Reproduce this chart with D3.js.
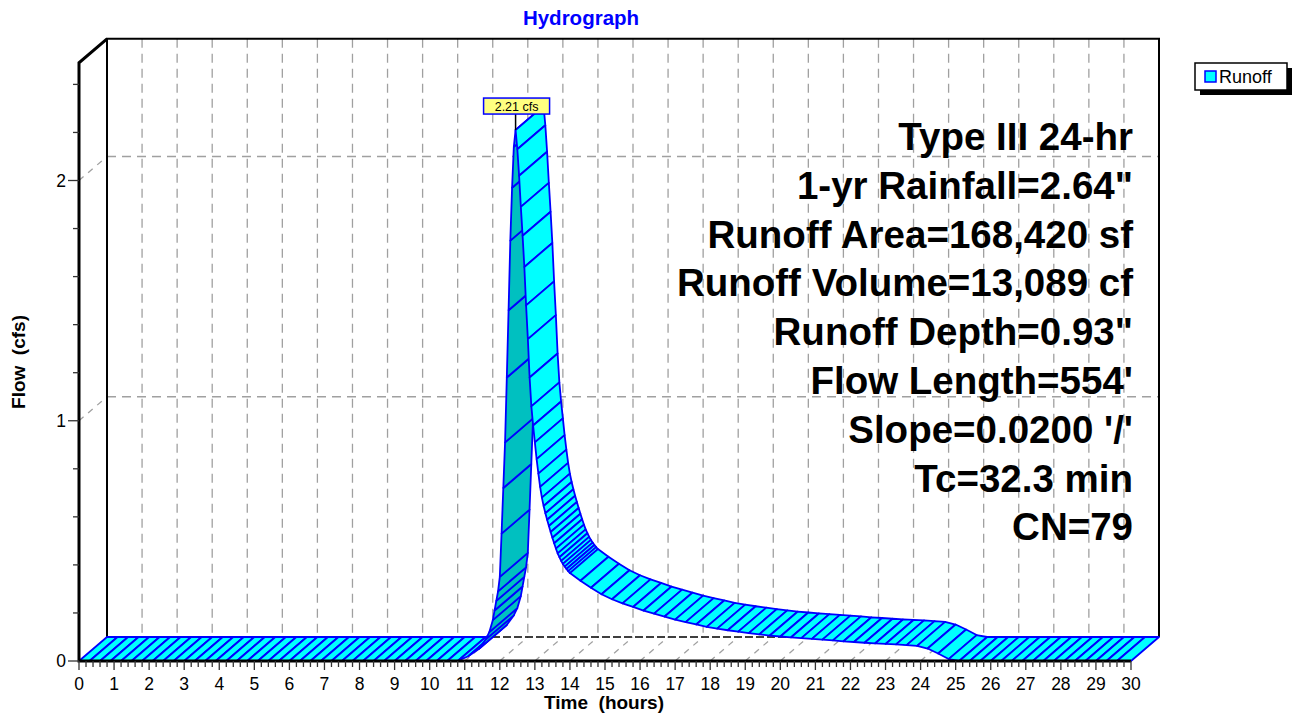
<!DOCTYPE html>
<html>
<head>
<meta charset="utf-8">
<script src="https://cdn.jsdelivr.net/npm/d3@7"></script>
<style>
  body { margin: 0; background: #fff; }
  text { font-family: "Liberation Sans", Arial, sans-serif; }
</style>
</head>
<body>
<div id="chart"></div>
<script>
// hydrograph data (hours, cfs)
var timeHrs = [0,0.3,0.6,0.9,1.2,1.5,1.8,2.1,2.4,2.7,3.0,3.3,3.6,3.9,4.2,4.5,4.8,5.1,5.4,5.7,6.0,6.3,6.6,6.9,7.2,7.5,7.8,8.1,8.4,8.7,9.0,9.3,9.6,9.9,10.2,10.5,10.8,
  11.1,11.4,11.6,11.7,11.8,11.85,11.9,11.95,12.0,12.05,12.1,12.15,12.2,12.25,12.3,12.35,12.4,12.45,
  12.5,12.55,12.6,12.65,12.7,12.75,12.8,12.85,12.9,12.95,13.0,13.05,13.1,13.15,13.2,13.25,13.3,13.35,13.4,13.45,13.5,13.55,13.6,13.65,13.7,13.75,13.8,13.85,13.9,13.95,14.0,
  14.3,14.6,14.9,15.2,15.5,15.8,16.1,16.4,16.7,17.0,17.3,17.6,17.9,18.2,18.5,18.8,19.1,19.4,19.7,20.0,20.3,20.6,20.9,21.2,21.5,21.8,22.1,22.4,22.7,23.0,23.3,23.6,23.9,24.2,24.5,24.8,25.1,
  25.4,25.7,26.0,26.3,26.6,26.9,27.2,27.5,27.8,28.1,28.4,28.7,29.0,29.3,29.6,30.0];
var flowCfs = [0,0,0,0,0,0,0,0,0,0,0,0,0,0,0,0,0,0,0,0,0,0,0,0,0,0,0,0,0,0,0,0,0,0,0,0,0,
  0.02,0.05,0.09,0.12,0.17,0.21,0.25,0.29,0.35,0.53,0.72,0.91,1.18,1.46,1.75,1.97,2.14,2.21,
  2.13,2.02,1.89,1.77,1.64,1.48,1.34,1.18,1.06,0.98,0.91,0.84,0.78,0.725,0.68,0.645,0.615,0.588,0.562,0.537,0.513,0.49,0.468,0.448,0.432,0.417,0.404,0.393,0.383,0.374,0.366,
  0.334,0.305,0.278,0.257,0.24,0.225,0.21,0.197,0.185,0.172,0.162,0.152,0.142,0.135,0.128,0.122,0.116,0.111,0.106,0.102,0.098,0.095,0.092,0.089,0.086,0.082,0.079,0.076,0.073,0.071,0.069,0.066,0.063,0.052,0.031,0.008,0,
  0,0,0,0,0,0,0,0,0,0,0,0,0,0,0,0];

var xTicks = d3.range(0, 31);
var yTicks = [0, 1, 2];
var peakLabel = "2.21 cfs";
var seriesName = "Runoff";
var infoLines = ["Type III 24-hr", "1-yr Rainfall=2.64\"", "Runoff Area=168,420 sf",
  "Runoff Volume=13,089 cf", "Runoff Depth=0.93\"", "Flow Length=554'",
  "Slope=0.0200 '/'", "Tc=32.3 min", "CN=79"];

var svgWidth = 1294, svgHeight = 717;
var DX = 28, DY = -24;   // depth offset of the back wall
var yMax = 2.49;

var svg = d3.select("#chart").append("svg")
  .attr("width", svgWidth).attr("height", svgHeight);

var x = d3.scaleLinear().domain([0, 30]).range([79, 1131]);
var y = d3.scaleLinear().domain([0, 2]).range([661, 180.5]);

var x0 = x(0), x1 = x(30), yb = y(0), yt = y(yMax);

// back wall grid
var grid = svg.append("g").attr("stroke", "#a0a0a0").attr("stroke-width", 1.3)
  .attr("stroke-dasharray", "9,6").attr("fill", "none");
xTicks.slice(1, -1).forEach(function(h) {
  grid.append("line").attr("x1", x(h) + DX).attr("x2", x(h) + DX)
    .attr("y1", yt + DY).attr("y2", yb + DY);
  grid.append("line").attr("x1", x(h)).attr("y1", yb)
    .attr("x2", x(h) + DX).attr("y2", yb + DY).attr("stroke-dasharray", "6,6");
});
yTicks.slice(1).forEach(function(v) {
  grid.append("line").attr("x1", x0 + DX).attr("x2", x1 + DX)
    .attr("y1", y(v) + DY).attr("y2", y(v) + DY);
  grid.append("line").attr("x1", x0).attr("y1", y(v))
    .attr("x2", x0 + DX).attr("y2", y(v) + DY).attr("stroke-dasharray", "6,6");
});

// back floor edge + wall border
svg.append("line").attr("x1", x0 + DX).attr("x2", x1 + DX)
  .attr("y1", yb + DY).attr("y2", yb + DY)
  .attr("stroke", "#000").attr("stroke-width", 1.5).attr("stroke-dasharray", "8,3");
svg.append("path")
  .attr("d", `M${x0 + DX},${yb + DY}V${yt + DY}H${x1 + DX}V${yb + DY}`)
  .attr("fill", "none").attr("stroke", "#000").attr("stroke-width", 2);

// ribbon
var pts = timeHrs.map(function(t, i) { return [x(t), y(flowCfs[i])]; });
var ribbon = svg.append("g").attr("stroke", "#0000ff").attr("stroke-width", 1.8)
  .attr("stroke-linejoin", "round");
for (var i = 0; i < pts.length - 1; i++) {
  var a = pts[i], b = pts[i + 1];
  var cross = (b[0] - a[0]) * DY - (b[1] - a[1]) * DX;
  ribbon.append("path")
    .attr("d", `M${a[0]},${a[1]}L${b[0]},${b[1]}L${b[0] + DX},${b[1] + DY}L${a[0] + DX},${a[1] + DY}Z`)
    .attr("fill", cross > 0 ? "#00c0c0" : "#00ffff");
}

// front axes
svg.append("path")
  .attr("d", `M${x0 + DX},${yt + DY}L${x0},${yt}V${yb}H${x1}`)
  .attr("fill", "none").attr("stroke", "#000").attr("stroke-width", 3);

var xAxis = svg.append("g");
d3.range(0, 30.01, 0.2).forEach(function(h) {
  var major = Math.abs(h - Math.round(h)) < 1e-6;
  xAxis.append("line").attr("x1", x(h)).attr("x2", x(h))
    .attr("y1", yb).attr("y2", yb + (major ? 9 : 6))
    .attr("stroke", "#333").attr("stroke-width", 1.3);
});
xAxis.selectAll("text").data(xTicks).enter().append("text")
  .attr("x", d => x(d)).attr("y", 690).attr("text-anchor", "middle")
  .attr("font-size", 17.5).text(d => d);

var yAxis = svg.append("g");
d3.range(0, yMax, 0.2).forEach(function(v) {
  var major = Math.abs(v - Math.round(v)) < 1e-6;
  yAxis.append("line").attr("x1", x0).attr("x2", x0 - (major ? 11 : 6))
    .attr("y1", y(v)).attr("y2", y(v))
    .attr("stroke", "#333").attr("stroke-width", 1.3);
});
yAxis.selectAll("text").data(yTicks).enter().append("text")
  .attr("x", 66).attr("y", d => y(d) + 6).attr("text-anchor", "end")
  .attr("font-size", 17.5).text(d => d);

// titles
svg.append("text").attr("x", 581).attr("y", 25).attr("text-anchor", "middle")
  .attr("font-size", 20.5).attr("font-weight", "bold").attr("fill", "#0000ff")
  .text("Hydrograph");
svg.append("text").attr("x", 604).attr("y", 709).attr("text-anchor", "middle")
  .attr("font-size", 19).attr("font-weight", "bold").style("white-space", "pre")
  .text("Time  (hours)");
svg.append("text").attr("transform", "translate(25,362) rotate(-90)")
  .attr("text-anchor", "middle").attr("font-size", 19).attr("font-weight", "bold")
  .style("white-space", "pre").text("Flow  (cfs)");

// peak label
var iPeak = d3.maxIndex(flowCfs);
var px = x(timeHrs[iPeak]), py = y(flowCfs[iPeak]);
svg.append("line").attr("x1", px).attr("x2", px).attr("y1", py).attr("y2", py - 17)
  .attr("stroke", "#000").attr("stroke-width", 1.5);
svg.append("rect").attr("x", px - 32).attr("y", py - 32).attr("width", 66).attr("height", 16)
  .attr("fill", "#ffff80").attr("stroke", "#0000ff").attr("stroke-width", 1.5);
svg.append("text").attr("x", px + 1).attr("y", py - 19.5).attr("text-anchor", "middle")
  .attr("font-size", 12.5).text(peakLabel);

// info block
svg.append("g").selectAll("text").data(infoLines).enter().append("text")
  .attr("x", 1133).attr("y", (d, i) => 150 + i * 48.8).attr("text-anchor", "end")
  .attr("font-size", 38.5).attr("font-weight", "bold").text(d => d);

// legend
var lg = svg.append("g").attr("transform", "translate(1195,63)");
lg.append("rect").attr("x", 5).attr("y", 5).attr("width", 92).attr("height", 27).attr("fill", "#000");
lg.append("rect").attr("x", 0).attr("y", 0).attr("width", 92).attr("height", 27)
  .attr("fill", "#fff").attr("stroke", "#000").attr("stroke-width", 1.5);
lg.append("rect").attr("x", 10).attr("y", 8).attr("width", 11).attr("height", 11)
  .attr("fill", "#00ffff").attr("stroke", "#0000ff").attr("stroke-width", 1.5);
lg.append("text").attr("x", 24).attr("y", 20).attr("font-size", 18).text(seriesName);
</script>
</body>
</html>
